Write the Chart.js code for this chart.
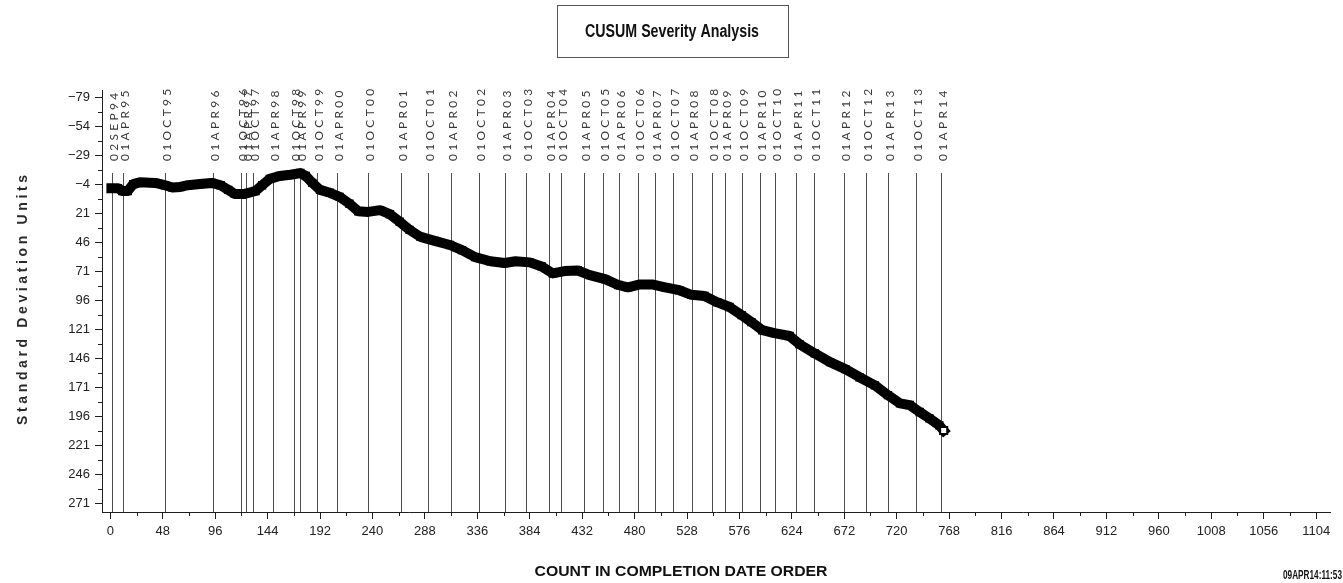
<!DOCTYPE html>
<html>
<head>
<meta charset="utf-8">
<title>CUSUM Severity Analysis</title>
<script src="https://cdn.jsdelivr.net/npm/chart.js@4.4.1/dist/chart.umd.min.js"></script>
<style>
  html, body { margin: 0; padding: 0; background: #fff; overflow: hidden; }
  #wrap { width: 1343px; height: 583px; position: relative; }
</style>
</head>
<body>
<div id="wrap"><canvas id="c" width="1343" height="583"></canvas></div>
<script>
// Cumulative sum series, indexed by count in completion-date order
const counts = [1, 7, 11, 16, 21, 27, 41, 50, 57, 64,
  71, 82, 93, 101, 108, 114, 123, 133, 139, 146,
  155, 165, 174, 179, 185, 192, 201, 210, 219, 227,
  236, 247, 256, 265, 274, 284, 297, 311, 322, 334,
  348, 361, 371, 384, 395, 405, 416, 428, 439, 453,
  465, 474, 485, 496, 508, 521, 532, 544, 556, 567,
  578, 587, 597, 608, 622, 631, 645, 659, 673, 686,
  700, 712, 723, 732, 741, 750, 759, 763];
const cusum = [-1, -1, 1.5, 1.5, -4.5, -6, -5.5, -3.5, -1.5, -2,
  -3.5, -4.5, -5.5, -3.5, 0.5, 4, 4, 1.5, -3.5, -9,
  -11.5, -12.5, -14, -11.5, -5.5, 0.5, 3, 6.5, 12.5, 19,
  19.5, 18, 21.5, 28, 35, 41, 44.5, 48, 52.5, 58.5,
  62, 63.5, 62, 63, 66.5, 72.5, 70.5, 70, 74, 77.5,
  82.5, 84.5, 82, 82, 84.5, 87, 91, 92, 97.5, 101.5,
  108.5, 114.5, 121.5, 124, 126.5, 133.5, 141.5, 149, 155, 162,
  169, 177.5, 184.5, 186, 192, 197.5, 203.5, 208];

// Date reference lines (count position of each period start)
const refCounts = [2, 12, 50, 94, 120, 124, 131, 149, 168, 174,
  189, 208, 236, 266, 291, 312, 338, 361, 381, 402,
  413, 434, 451, 466, 483, 499, 515, 533, 551, 563,
  578, 595, 609, 628, 644, 672, 692, 712, 738, 761];
const refLabels = ['02SEP94', '01APR95', '01OCT95', '01APR96', '01OCT96', '01APR97', '01OCT97', '01APR98', '01OCT98', '01APR99',
  '01OCT99', '01APR00', '01OCT00', '01APR01', '01OCT01', '01APR02', '01OCT02', '01APR03', '01OCT03', '01APR04',
  '01OCT04', '01APR05', '01OCT05', '01APR06', '01OCT06', '01APR07', '01OCT07', '01APR08', '01OCT08', '01APR09',
  '01OCT09', '01APR10', '01OCT10', '01APR11', '01OCT11', '01APR12', '01OCT12', '01APR13', '01OCT13', '01APR14'];
const refLineTop = -14;

// Axis ticks
const xTicks = [0, 48, 96, 144, 192, 240, 288, 336, 384, 432, 480, 528, 576, 624, 672, 720, 768, 816, 864, 912, 960, 1008, 1056, 1104];
const xMinorTicks = [24, 72, 120, 168, 216, 264, 312, 360, 408, 456, 504, 552, 600, 648, 696, 744, 792, 840, 888, 936, 984, 1032, 1080];
const yTicks = [-79, -54, -29, -4, 21, 46, 71, 96, 121, 146, 171, 196, 221, 246, 271];
const yMinorTicks = [-66.5, -41.5, -16.5, 8.5, 33.5, 58.5, 83.5, 108.5, 133.5, 158.5, 183.5, 208.5, 233.5, 258.5];

// Text
const chartTitle = 'CUSUM Severity Analysis';
const yTitle = 'Standard Deviation Units';
const xTitle = 'COUNT IN COMPLETION DATE ORDER';
const stamp = '09APR14:11:53';

const NARROW = '"Liberation Sans Narrow", "Liberation Sans", Arial, sans-serif';
const INK = '#1e1e1e';

// Draws text scaled horizontally to a given width
function drawFitted(ctx, text, cx, cy, width, font) {
  ctx.save();
  ctx.font = font;
  const w = ctx.measureText(text).width;
  ctx.translate(cx, cy);
  ctx.scale(width / w, 1);
  ctx.textAlign = 'center';
  ctx.textBaseline = 'middle';
  ctx.fillText(text, 0, 0);
  ctx.restore();
}

const decorations = {
  id: 'decorations',
  beforeDatasetsDraw(chart) {
    const { ctx, chartArea, scales: { x, y } } = chart;
    const top = y.getPixelForValue(refLineTop);
    ctx.save();
    ctx.strokeStyle = '#4d4d4d';
    ctx.lineWidth = 1;
    refCounts.forEach((c, i) => {
      const px = Math.round(x.getPixelForValue(c)) + 0.5;
      ctx.beginPath();
      ctx.moveTo(px, top);
      ctx.lineTo(px, chartArea.bottom);
      ctx.stroke();

      ctx.save();
      ctx.translate(px + 1.5, top - 12);
      ctx.rotate(-Math.PI / 2);
      ctx.font = '12px Lato, "DejaVu Sans", sans-serif';
      ctx.letterSpacing = '3.3px';
      ctx.fillStyle = '#3a3a3a';
      ctx.textAlign = 'left';
      ctx.textBaseline = 'middle';
      ctx.fillText(refLabels[i], 0, 0);
      ctx.restore();
    });
    ctx.restore();
  },
  afterDraw(chart) {
    const { ctx, chartArea, scales: { x, y } } = chart;
    ctx.save();
    ctx.strokeStyle = INK;
    ctx.lineWidth = 1;
    // minor ticks
    xMinorTicks.forEach(v => {
      const px = Math.round(x.getPixelForValue(v)) + 0.5;
      ctx.beginPath();
      ctx.moveTo(px, chartArea.bottom);
      ctx.lineTo(px, chartArea.bottom + 4);
      ctx.stroke();
    });
    yMinorTicks.forEach(v => {
      const py = Math.round(y.getPixelForValue(v)) + 0.5;
      ctx.beginPath();
      ctx.moveTo(chartArea.left, py);
      ctx.lineTo(chartArea.left - 4, py);
      ctx.stroke();
    });

    // title box
    ctx.strokeStyle = '#555';
    ctx.strokeRect(557.5, 5.5, 231, 52);
    ctx.fillStyle = '#111';
    drawFitted(ctx, chartTitle, 672, 32, 174, 'bold 18px "Liberation Sans", Arial, sans-serif');

    // x axis title
    drawFitted(ctx, xTitle, 681, 572, 293, 'bold 15px "Liberation Sans", Arial, sans-serif');

    // time stamp
    ctx.save();
    ctx.font = 'bold 13px "Liberation Sans", Arial, sans-serif';
    const sw = ctx.measureText(stamp).width;
    ctx.translate(1283, 575);
    ctx.scale(59 / sw, 1);
    ctx.textAlign = 'left';
    ctx.textBaseline = 'middle';
    ctx.fillText(stamp, 0, 0);
    ctx.restore();

    // y axis title
    ctx.save();
    ctx.translate(23, 300);
    ctx.rotate(-Math.PI / 2);
    ctx.font = 'bold 14px "Liberation Sans", Arial, sans-serif';
    ctx.letterSpacing = '0px';
    const base = ctx.measureText(yTitle).width;
    const spacing = (250 - base) / (yTitle.length - 1);
    ctx.letterSpacing = spacing.toFixed(2) + 'px';
    ctx.fillStyle = '#2a2a2a';
    ctx.textAlign = 'center';
    ctx.textBaseline = 'middle';
    ctx.fillText(yTitle, spacing / 2, 0);
    ctx.restore();

    ctx.restore();
  }
};

const points = counts.map((c, i) => ({ x: c, y: cusum[i] }));

new Chart(document.getElementById('c'), {
  type: 'line',
  data: {
    datasets: [{
      label: 'CUSUM',
      data: points,
      borderColor: '#000',
      borderWidth: 10,
      borderJoinStyle: 'round',
      borderCapStyle: 'square',
      tension: 0,
      pointStyle: 'rect',
      pointRadius: ctx => ctx.dataIndex === cusum.length - 1 ? 5 : 4.5,
      pointBackgroundColor: ctx => ctx.dataIndex === cusum.length - 1 ? '#fff' : '#000',
      pointBorderColor: '#000',
      pointBorderWidth: 2
    }]
  },
  options: {
    responsive: false,
    animation: false,
    devicePixelRatio: 1,
    layout: { padding: { left: 0, right: 13, top: 90, bottom: 0 } },
    plugins: {
      legend: { display: false },
      title: { display: false },
      tooltip: { enabled: false }
    },
    scales: {
      x: {
        type: 'linear',
        min: -7.6,
        max: 1116.7,
        afterFit: s => { s.height = 71; },
        afterBuildTicks: s => { s.ticks = xTicks.map(v => ({ value: v })); },
        border: { display: true, color: INK, width: 1 },
        grid: { display: true, drawOnChartArea: false, drawTicks: true, tickLength: 7, color: INK },
        ticks: {
          autoSkip: false,
          maxRotation: 0,
          padding: 5,
          color: '#222',
          font: { family: NARROW, size: 13 },
          callback: v => String(v)
        }
      },
      y: {
        type: 'linear',
        reverse: true,
        min: -85.6,
        max: 278.2,
        afterFit: s => { s.width = 102; },
        afterBuildTicks: s => { s.ticks = yTicks.map(v => ({ value: v })); },
        border: { display: true, color: INK, width: 1 },
        grid: { display: true, drawOnChartArea: false, drawTicks: true, tickLength: 7, color: INK },
        ticks: {
          autoSkip: false,
          padding: 5,
          color: '#222',
          font: { family: NARROW, size: 13 },
          callback: v => (v < 0 ? '\u2212' + Math.abs(v) : String(v))
        }
      }
    }
  },
  plugins: [decorations]
});
</script>
</body>
</html>
